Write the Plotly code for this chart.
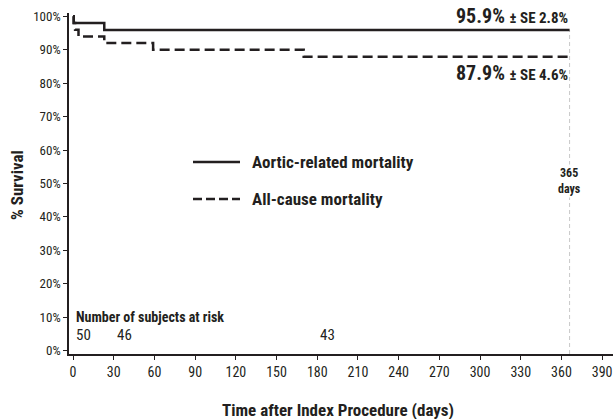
import plotly.graph_objects as go

# Kaplan-Meier step data (days, % survival)
aortic_days = [0, 0.5, 23, 366]
aortic_surv = [100, 98, 95.9, 95.9]
allcause_days = [0, 0.5, 1.5, 4, 23, 59, 170, 366]
allcause_surv = [100, 98, 96, 94, 92, 90, 87.9, 87.9]
series_names = ["Aortic-related mortality", "All-cause mortality"]
final_labels = ["95.9%", "87.9%"]
se_labels = ["± SE 2.8%", "± SE 4.6%"]

risk_days = [0, 30, 180]
risk_counts = [50, 46, 43]

x_ticks = list(range(0, 391, 30))
y_ticks = list(range(0, 101, 10))
y_ticklabels = [f"{v}%" for v in y_ticks]

FONT = "Roboto Condensed, Liberation Sans Narrow, sans-serif"
INK = "#231f20"
W, H = 613, 419
L, R, T, B = 69, 0, 13, 65

fig = go.Figure()
fig.add_trace(go.Scatter(x=aortic_days, y=aortic_surv, mode="lines", line_shape="hv",
                         line=dict(color=INK, width=2.5), name=series_names[0], showlegend=False))
fig.add_trace(go.Scatter(x=allcause_days, y=allcause_surv, mode="lines", line_shape="hv",
                         line=dict(color=INK, width=2.5, dash="10px,5px"), name=series_names[1],
                         showlegend=False))

# 365-day reference line
fig.add_shape(type="line", xref="x", yref="y", x0=366, x1=366, y0=-1, y1=aortic_surv[-1],
              line=dict(color="#c8c8c8", width=1, dash="4px,3px"), layer="below")
fig.add_annotation(x=366, y=50.8, xref="x", yref="y", showarrow=False,
                   text="<b>365<br>days</b>", font=dict(family=FONT, size=12, color=INK),
                   bgcolor="white")

# final survival labels
fig.add_annotation(x=366, y=aortic_surv[-1], xref="x", yref="y", xanchor="right", yanchor="middle",
                   yshift=14, showarrow=False,
                   text=f"<b>{final_labels[0]}</b> <span style='font-size:15px'><b>{se_labels[0]}</b></span>",
                   font=dict(family=FONT, size=20, color=INK))
fig.add_annotation(x=366, y=allcause_surv[-1], xref="x", yref="y", xanchor="right", yanchor="middle",
                   yshift=-16, showarrow=False,
                   text=f"<b>{final_labels[1]}</b> <span style='font-size:15px'><b>{se_labels[1]}</b></span>",
                   font=dict(family=FONT, size=20, color=INK))

# helpers: window pixel -> paper coordinate
def px_x(p):
    return (p - L) / (W - L - R)

def px_y(p):
    return (H - B - p) / (H - T - B)

# manual legend
for name, yp, dash in [(series_names[0], 162, "solid"), (series_names[1], 199, "9px,4px")]:
    fig.add_shape(type="line", xref="paper", yref="paper", x0=px_x(193), x1=px_x(240),
                  y0=px_y(yp), y1=px_y(yp), line=dict(color=INK, width=2.5, dash=dash))
    fig.add_annotation(x=px_x(250), y=px_y(yp), xref="paper", yref="paper", xanchor="left",
                       yanchor="middle", showarrow=False, text=f"<b>{name}</b>",
                       font=dict(family=FONT, size=17, color=INK))

# numbers at risk
fig.add_annotation(x=0, y=10.2, xref="x", yref="y", xanchor="left", xshift=1, showarrow=False,
                   text="<b>Number of subjects at risk</b>", font=dict(family=FONT, size=14, color=INK))
for d, n in zip(risk_days, risk_counts):
    fig.add_annotation(x=d, y=4.8, xref="x", yref="y", xanchor="left", xshift=1, showarrow=False,
                       text=str(n), font=dict(family=FONT, size=15, color=INK))

# axis titles
fig.add_annotation(x=px_x(337.5), y=px_y(410), xref="paper", yref="paper", showarrow=False,
                   xanchor="center", yanchor="middle",
                   text="<b>Time after Index Procedure (days)</b>", font=dict(family=FONT, size=17, color=INK))
fig.add_annotation(x=px_x(17), y=px_y(185), xref="paper", yref="paper", showarrow=False,
                   xanchor="center", yanchor="middle", textangle=-90,
                   text="<b>% Survival</b>", font=dict(family=FONT, size=17, color=INK))

fig.update_layout(
    width=W, height=H,
    margin=dict(l=L, r=R, t=T, b=B),
    plot_bgcolor="white", paper_bgcolor="white",
    font=dict(family=FONT, color=INK),
    showlegend=False,
    hovermode=False,
    xaxis=dict(range=[-3, 398], tickvals=x_ticks, showgrid=False, zeroline=False, automargin=False,
               showline=True, linecolor=INK, linewidth=1.5, ticks="outside", ticklen=4,
               tickcolor=INK, tickfont=dict(family=FONT, size=14, color=INK)),
    yaxis=dict(range=[-1, 101], tickvals=y_ticks, ticktext=y_ticklabels, showgrid=False,
               zeroline=False, automargin=False, showline=True, linecolor=INK, linewidth=1.5,
               ticks="outside", ticklen=4, tickcolor=INK,
               tickfont=dict(family=FONT, size=13, color=INK)),
)

fig.write_html(
    "out.html",
    config={"displayModeBar": False},
    post_script="document.documentElement.style.margin='0';document.documentElement.style.overflow='hidden';"
                "document.body.style.margin='0';document.body.style.padding='0';document.body.style.overflow='hidden';",
)
